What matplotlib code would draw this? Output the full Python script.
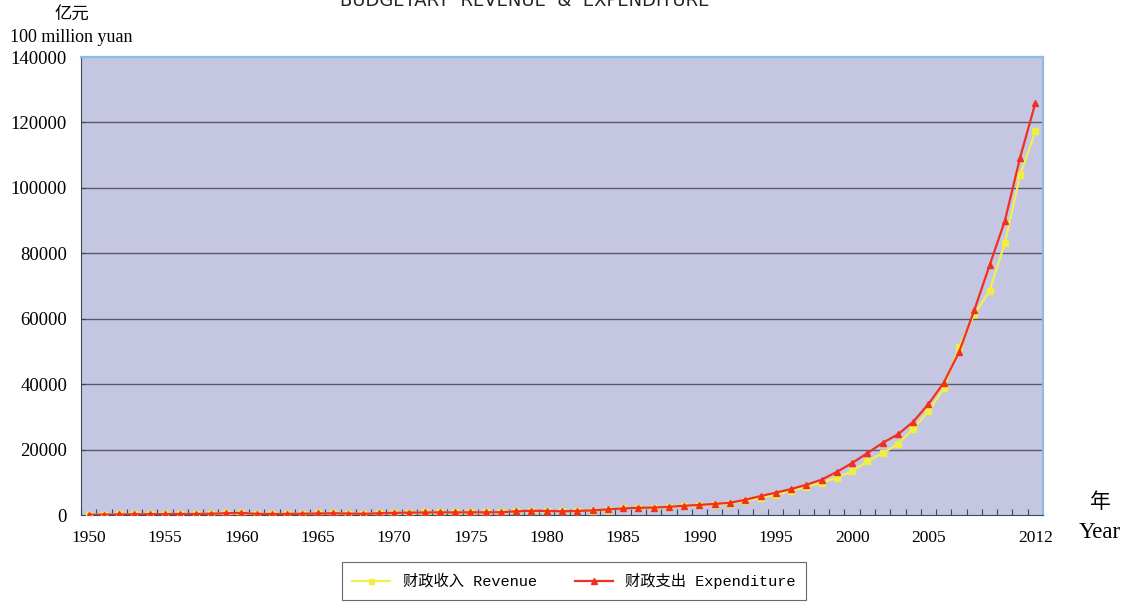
import matplotlib
matplotlib.use("Agg")
import matplotlib.pyplot as plt
import numpy as np

years = list(range(1950, 2013))
revenue = [62.17, 124.96, 173.94, 213.24, 245.17, 249.27, 280.19, 303.2, 379.62, 487.12,
           572.29, 356.06, 313.55, 342.25, 399.54, 473.32, 558.71, 419.36, 361.25, 526.76,
           662.9, 744.73, 766.56, 809.67, 783.14, 815.61, 776.58, 874.46, 1132.26, 1146.38,
           1159.93, 1175.79, 1212.33, 1366.95, 1642.86, 2004.82, 2122.01, 2199.35, 2357.24, 2664.90,
           2937.10, 3149.48, 3483.37, 4348.95, 5218.10, 6242.20, 7407.99, 8651.14, 9875.95, 11444.08,
           13395.23, 16386.04, 18903.64, 21715.25, 26396.47, 31649.29, 38760.20, 51321.78, 61330.35, 68518.30,
           83101.51, 103874.43, 117253.52]
expenditure = [68.05, 122.07, 172.07, 219.21, 244.11, 262.73, 298.52, 295.95, 400.36, 543.17,
               643.68, 356.09, 294.88, 332.05, 393.79, 459.97, 537.65, 439.84, 357.84, 525.86,
               649.41, 732.17, 765.86, 808.78, 790.25, 820.88, 806.20, 843.53, 1122.09, 1281.79,
               1228.83, 1138.41, 1229.98, 1409.52, 1701.02, 2004.25, 2204.91, 2262.18, 2491.21, 2823.78,
               3083.59, 3386.62, 3742.20, 4642.30, 5792.62, 6823.72, 7937.55, 9233.56, 10798.18, 13187.67,
               15886.50, 18902.58, 22053.15, 24649.95, 28486.89, 33930.28, 40422.73, 49781.35, 62592.66, 76299.93,
               89874.16, 109247.79, 125952.97]
xtick_years = [1950, 1955, 1960, 1965, 1970, 1975, 1980, 1985, 1990, 1995, 2000, 2005, 2012]
yticks = [0, 20000, 40000, 60000, 80000, 100000, 120000, 140000]

serif = ['Liberation Serif', 'Noto Sans CJK SC']
mono = ['Liberation Mono', 'Noto Sans CJK SC']

fig = plt.figure(figsize=(11.31, 6.03), dpi=100)
ax = fig.add_axes([81/1131, 1-515/603, (1043-81)/1131, (515-57)/603])
ax.set_facecolor('#C5C6E2')

for y in yticks[1:-1]:
    ax.axhline(y, color='#5a5a66', lw=1.0, zorder=1)

ax.plot(years, revenue, color='#F2F050', lw=1.6, marker='s', ms=4.5,
        markerfacecolor='#EEEE44', markeredgecolor='#EEEE44', zorder=3,
        label='财政收入 Revenue')
ax.plot(years, expenditure, color='#F03020', lw=1.6, marker='^', ms=5,
        markerfacecolor='#F03020', markeredgecolor='#F03020', zorder=4,
        label='财政支出 Expenditure')

ax.set_xlim(1949.5, 2012.5)
ax.set_ylim(0, 140000)
ax.set_yticks(yticks)
ax.set_yticklabels([str(v) for v in yticks], fontfamily=serif, fontsize=13.5)
ax.set_xticks(xtick_years)
ax.set_xticklabels([str(v) for v in xtick_years], fontfamily=serif, fontsize=12.5)
ax.tick_params(axis='x', which='major', length=0, pad=11)
ax.set_xticks(np.arange(1949.5, 2013, 1.0), minor=True)
ax.tick_params(axis='x', which='minor', direction='in', length=4, width=0.8, color='#444444')
ax.tick_params(axis='y', length=3, direction='in', pad=10, color='#444444')

ax.spines['left'].set_color('#3a4a5a')
ax.spines['bottom'].set_color('#3a4a5a')
ax.spines['top'].set_color('#8EBCE6')
ax.spines['right'].set_color('#8EBCE6')
ax.spines['top'].set_linewidth(1.6)
ax.spines['right'].set_linewidth(1.6)

fig.text(55/1131, 1-15/603, '亿元', fontfamily=['Noto Sans CJK SC'], fontsize=12.5, va='center', ha='left')
fig.text(10/1131, 1-38/603, '100 million yuan', fontfamily=serif, fontsize=13, va='center', ha='left')
fig.text(525/1131, 0.999, 'BUDGETARY  REVENUE  &  EXPENDITURE', fontfamily=['DejaVu Sans'],
         fontsize=13, va='center', ha='center', color='#222222')
fig.text(1100/1131, 1-502/603, '年', fontfamily=['Noto Sans CJK SC'], fontsize=15, va='center', ha='center')
fig.text(1100/1131, 1-532/603, 'Year', fontfamily=['Liberation Serif'], fontsize=16.5, va='center', ha='center')

leg = fig.legend(loc='center', bbox_to_anchor=(574/1131, 1-581/603), ncol=2, frameon=True,
                 fancybox=False, edgecolor='#444444', prop={'family': mono, 'size': 11},
                 handlelength=2.5, columnspacing=2.5, borderpad=0.7, markerscale=0.8)
leg.get_frame().set_linewidth(0.8)

fig.savefig('out.png', dpi=100)
